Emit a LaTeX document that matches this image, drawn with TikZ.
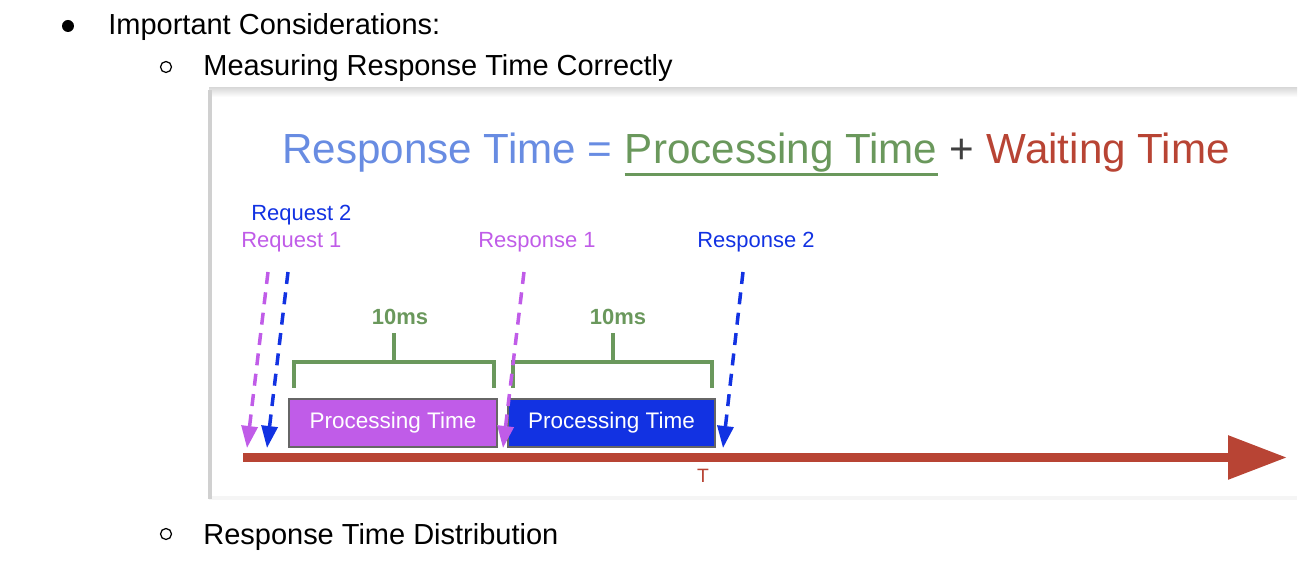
\documentclass[tikz,border=0pt]{standalone}
\usepackage{fontspec}
\setmainfont{Liberation Sans}
\usetikzlibrary{arrows.meta, positioning, calc}
\definecolor{rtblue}{RGB}{104,140,226}
\definecolor{ptgreen}{RGB}{106,152,92}
\definecolor{wtred}{RGB}{184,68,52}
\definecolor{reqpurple}{RGB}{192,92,232}
\definecolor{reqblue}{RGB}{18,50,226}
\definecolor{framegray}{RGB}{208,208,208}

\begin{document}
\begin{tikzpicture}[x=0.02cm, y=-0.02cm,
  doctext/.style={anchor=base west, inner sep=0pt, font=\fontsize{16.5}{20}\selectfont},
  titletext/.style={inner sep=0pt, font=\fontsize{24}{29}\selectfont},
  evlabel/.style={anchor=base west, inner sep=0pt, font=\fontsize{12.5}{15}\selectfont},
  eventarrow/.style={line width=0.07cm, dash pattern=on 0.24cm off 0.17cm, -{Triangle[length=0.44cm, width=0.32cm]}},
  procbox/.style={draw=black!60, line width=0.6pt, minimum height=0.96cm, inner sep=0pt, text=white, font=\fontsize{12.8}{15}\selectfont},
  bracket/.style={ptgreen, line width=0.08cm},
  mslabel/.style={ptgreen, font=\bfseries\fontsize{12.5}{15}\selectfont}
]
\useasboundingbox (0,0) rectangle (1316,570);

% outline text
\fill (68,26) circle[radius=0.12cm];
\node[doctext] (consider) at (108,35) {Important Considerations:};
\draw[line width=0.7pt] (166,67) circle[radius=0.11cm];
\node[doctext] (measure) at (203,76) {Measuring Response Time Correctly};
\draw[line width=0.7pt] (166,534) circle[radius=0.11cm];
\node[doctext] (distrib) at (203,545) {Response Time Distribution};

% frame of the figure
\fill[top color=black!14, bottom color=white] (209,88) rectangle (1297,97);
\fill[black!4] (209,496) rectangle (1297,500);
\fill[framegray] (208,90) rectangle (212,499);

% formula
\node[titletext, anchor=base west, rtblue] (rt) at (282,164) {Response Time =};
\node[titletext, base right=6.7pt of rt, ptgreen] (pt) {Processing Time};
\node[titletext, base right=6.7pt of pt, black!75] (plus) {+};
\node[titletext, base right=6.7pt of plus, wtred] (wt) {Waiting Time};
\draw[ptgreen, line width=0.06cm] ($(pt.base west)+(0,11)$) -- ($(pt.base east)+(0,11)$);

% events
\node[evlabel, reqblue] (req2) at (251,221) {Request 2};
\node[evlabel, reqpurple] (req1) at (241,248) {Request 1};
\node[evlabel, reqpurple] (resp1) at (478,248) {Response 1};
\node[evlabel, reqblue] (resp2) at (697,248) {Response 2};

% processing boxes
\node[procbox, fill=reqpurple, minimum width=4.16cm] (box1) at (393,423) {Processing Time};
\node[procbox, fill=reqblue, minimum width=4.14cm] (box2) at (611.5,423) {Processing Time};

% brackets
\draw[bracket] (294,388) |- (494,362) -- (494,388);
\draw[bracket] (394,362) -- (394,333);
\node[mslabel] (ms1) at (400,317) {10ms};
\draw[bracket] (513,388) |- (712,362) -- (712,388);
\draw[bracket] (613,362) -- (613,333);
\node[mslabel] (ms2) at (618,317) {10ms};

% time axis
\coordinate (tstart) at (243,457.5);
\coordinate (tend) at (1287,457.5);
\draw[wtred, line width=0.18cm, -{Triangle[length=1.18cm, width=0.84cm]}] (tstart) -- (tend);
\node[wtred, font=\fontsize{11}{13}\selectfont] (tlabel) at (703,476) {T};

% request and response arrows
\coordinate (req1top) at (268,272);
\coordinate (req1tip) at (247,448);
\coordinate (req2top) at (288,272);
\coordinate (req2tip) at (267,448);
\coordinate (resp1top) at (524,272);
\coordinate (resp1tip) at (503,448);
\coordinate (resp2top) at (743,272);
\coordinate (resp2tip) at (723,448);
\draw[eventarrow, reqpurple] (req1top) -- (req1tip);
\draw[eventarrow, reqblue] (req2top) -- (req2tip);
\draw[eventarrow, reqpurple] (resp1top) -- (resp1tip);
\draw[eventarrow, reqblue] (resp2top) -- (resp2tip);
\end{tikzpicture}
\end{document}
